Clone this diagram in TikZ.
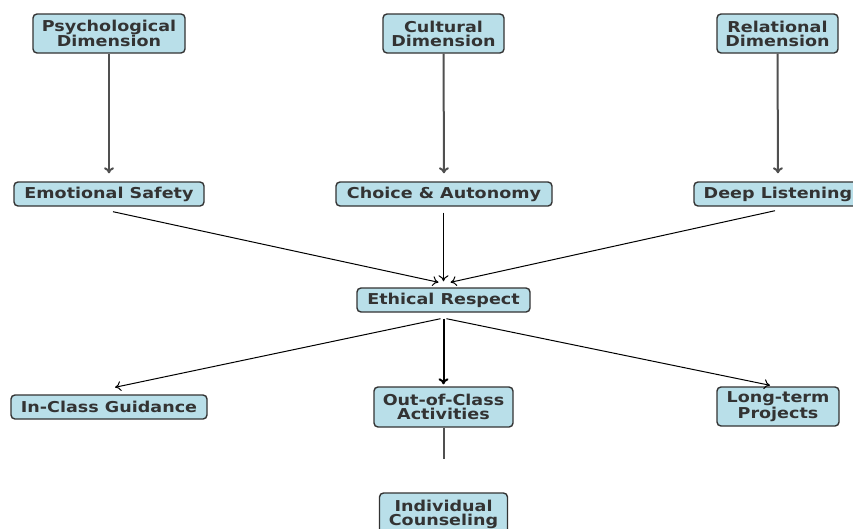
\documentclass[tikz,border=0pt]{standalone}
\usepackage{fontspec}
\setmainfont{DejaVu Sans}
\usepackage{graphicx}
\usetikzlibrary{arrows.meta}
\definecolor{boxfill}{RGB}{185,223,233}
\definecolor{boxline}{RGB}{51,51,51}
\definecolor{txt}{RGB}{51,51,51}
\definecolor{edgegray}{RGB}{80,80,80}
\newcommand\sx[1]{\scalebox{1.17}[1]{#1}}
\tikzset{
  box/.style={draw=boxline, fill=boxfill, line width=1.4pt, rounded corners=4pt,
    inner sep=0pt, align=center, text=txt,
    font=\fontsize{15}{14}\selectfont\bfseries},
  conn/.style={draw=black, line width=1pt, -{To[length=6pt,width=10pt]}},
  vconn/.style={draw=edgegray, line width=2pt, -{To[length=6pt,width=10pt]}},
  thick conn/.style={draw=black, line width=2pt, -{To[length=6pt,width=10pt]}}
}
\begin{document}
\begin{tikzpicture}[x=1pt,y=-1pt]
\useasboundingbox (0,0) rectangle (853,528);
\clip (0,0) rectangle (853,528);
\node[box, minimum width=152pt, minimum height=39pt] (psy) at (109,33.5) {\sx{Psychological}\\\sx{Dimension}};
\node[box, minimum width=121pt, minimum height=39pt] (cul) at (443.5,33.5) {\sx{Cultural}\\\sx{Dimension}};
\node[box, minimum width=121pt, minimum height=39pt] (rel) at (777.5,33.5) {\sx{Relational}\\\sx{Dimension}};
\node[box, minimum width=190pt, minimum height=24pt] (emo) at (109,194) {\sx{Emotional Safety}};
\node[box, minimum width=216pt, minimum height=24pt] (cho) at (444,194) {\sx{Choice \& Autonomy}};
\node[box, minimum width=168pt, minimum height=24pt] (deep) at (778,194) {\sx{Deep Listening}};
\node[box, minimum width=173pt, minimum height=24pt] (eth) at (443.5,300) {\sx{Ethical Respect}};
\node[box, minimum width=196pt, minimum height=24pt] (inc) at (109,407) {\sx{In-Class Guidance}};
\node[box, minimum width=139pt, minimum height=40pt] (out) at (443.5,407) {\sx{Out-of-Class}\\\sx{Activities}};
\node[box, minimum width=122pt, minimum height=39pt] (lon) at (778,406.5) {\sx{Long-term}\\\sx{Projects}};
\node[box, minimum width=128pt, minimum height=42pt] (ind) at (443.5,514) {\sx{Individual}\\\sx{Counseling}};

\draw[vconn, shorten >=8pt] (psy) -- (emo);
\draw[vconn, shorten >=8pt] (cul) -- (cho);
\draw[vconn, shorten >=8pt] (rel) -- (deep);

\draw[conn] ([xshift=4pt,yshift=-5pt]emo.south) -- ([xshift=-5pt,yshift=5pt]eth.north);
\draw[conn] ([xshift=-3pt,yshift=-4pt]deep.south) -- ([xshift=7pt,yshift=5pt]eth.north);
\draw[conn] ([xshift=-0.5pt,yshift=-6pt]cho.south) -- ([yshift=6pt]eth.north);

\draw[conn] ([xshift=-3pt,yshift=-6pt]eth.south) -- ([xshift=6pt,yshift=7pt]inc.north);
\draw[thick conn] ([yshift=-6pt]eth.south) -- ([yshift=2pt]out.north);
\draw[conn] ([xshift=3pt,yshift=-6pt]eth.south) -- ([xshift=-8pt,yshift=1pt]lon.north);

\coordinate (indend) at ([yshift=33pt]ind.north);
\draw[draw=edgegray, line width=2pt] (out.south) -- (indend);
\end{tikzpicture}
\end{document}
